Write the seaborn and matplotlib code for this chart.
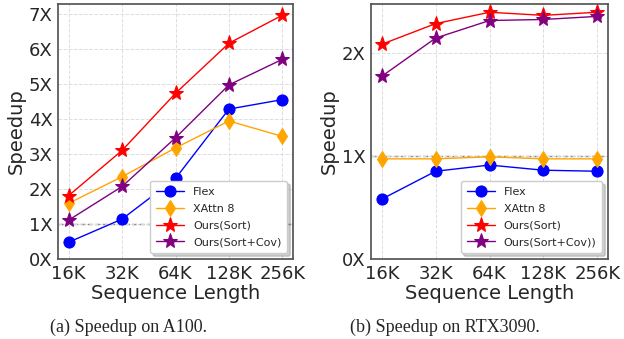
import pandas as pd
import matplotlib.pyplot as plt
import seaborn as sns

seq_lens = ["16K", "32K", "64K", "128K", "256K"]

# A100 speedups
a100_flex = [0.48, 1.14, 2.30, 4.28, 4.55]
a100_xattn = [1.59, 2.35, 3.17, 3.94, 3.50]
a100_sort = [1.81, 3.10, 4.73, 6.16, 6.96]
a100_cov = [1.11, 2.07, 3.46, 4.97, 5.70]

# RTX3090 speedups
rtx_flex = [0.58, 0.85, 0.91, 0.86, 0.85]
rtx_xattn = [0.97, 0.97, 0.99, 0.97, 0.97]
rtx_sort = [2.08, 2.28, 2.39, 2.36, 2.39]
rtx_cov = [1.77, 2.14, 2.31, 2.32, 2.35]

a100_names = ["Flex", "XAttn 8", "Ours(Sort)", "Ours(Sort+Cov)"]
rtx_names = ["Flex", "XAttn 8", "Ours(Sort)", "Ours(Sort+Cov))"]
colors = ["blue", "orange", "red", "purple"]
markers = ["o", "d", "*", "*"]
msizes = [8, 8, 11, 11]


def long_form(names, series):
    rows = []
    for name, vals in zip(names, series):
        for i, v in enumerate(vals):
            rows.append({"x": i, "speedup": v, "method": name})
    return pd.DataFrame(rows)


def draw(ax, names, series, ymax, yticks):
    df = long_form(names, series)
    for name, c, m, ms in zip(names, colors, markers, msizes):
        sns.lineplot(data=df[df["method"] == name], x="x", y="speedup", ax=ax,
                     color=c, marker=m, markersize=ms, markeredgecolor=c,
                     linewidth=1, label=name)
    ax.axhline(1.0, color="gray", linestyle="--", linewidth=1, zorder=0)
    ax.set_xticks(range(len(seq_lens)))
    ax.set_xticklabels(seq_lens)
    ax.set_xlim(-0.2, 4.2)
    ax.set_ylim(0, ymax)
    ax.set_yticks(yticks)
    ax.set_yticklabels([f"{t}X" for t in yticks])
    ax.tick_params(labelsize=13, length=3, pad=1)
    ax.set_xlabel("Sequence Length", fontsize=14, labelpad=1)
    ax.set_ylabel("Speedup", fontsize=14, labelpad=2)
    ax.grid(True, linestyle="--", color="#dddddd", linewidth=0.7)
    for s in ax.spines.values():
        s.set_edgecolor("#555555")
    ax.legend(loc="lower right", fontsize=8, fancybox=True,
              shadow={"alpha": 0.25}, framealpha=1, borderpad=0.55,
              labelspacing=0.6, handlelength=2.5)


sns.set_theme(style="white")
plt.rcParams["font.family"] = ["DejaVu Sans"]
fig = plt.figure(figsize=(6.24, 3.39), dpi=100)
ax1 = fig.add_axes([58 / 624, 1 - 259 / 339, 235 / 624, 255 / 339])
ax2 = fig.add_axes([371 / 624, 1 - 259 / 339, 237 / 624, 255 / 339])

draw(ax1, a100_names, [a100_flex, a100_xattn, a100_sort, a100_cov], 7.28, list(range(8)))
draw(ax2, rtx_names, [rtx_flex, rtx_xattn, rtx_sort, rtx_cov], 2.47, [0, 1, 2])

fig.text(129 / 624, 1 - 327 / 339, "(a) Speedup on A100.", ha="center", va="center",
         fontsize=13, family="Liberation Serif")
fig.text(445 / 624, 1 - 327 / 339, "(b) Speedup on RTX3090.", ha="center", va="center",
         fontsize=13, family="Liberation Serif")

fig.savefig("out.png", dpi=100)
